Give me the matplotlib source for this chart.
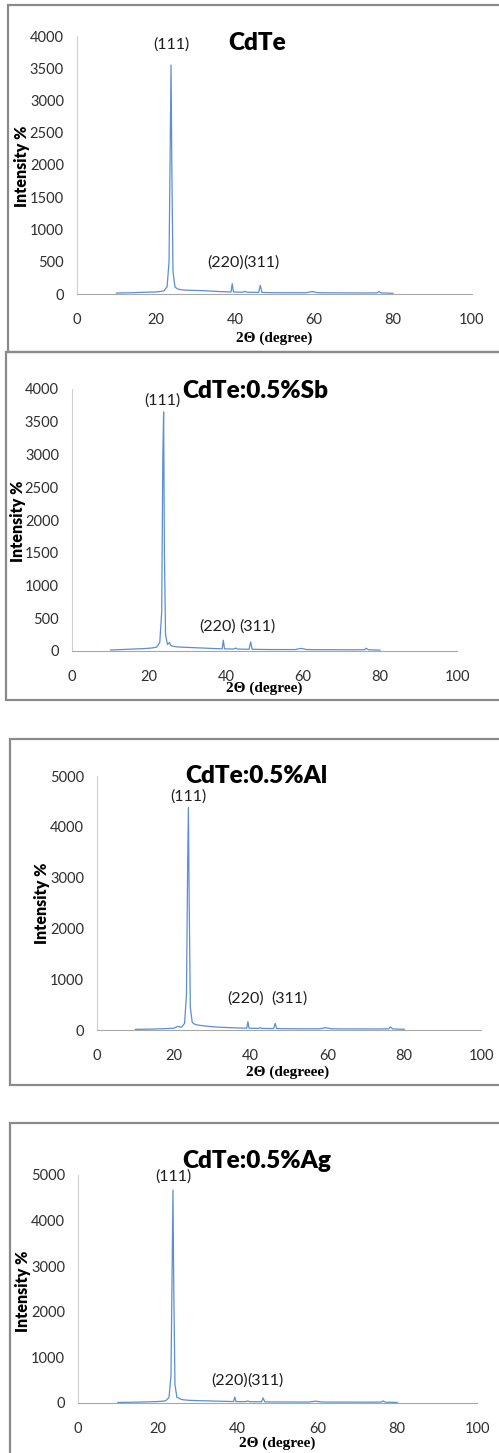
import matplotlib
matplotlib.use("Agg")
import matplotlib.pyplot as plt

# XRD patterns of CdTe films (2-theta in degrees, intensity in counts)
two_theta = [10, 12, 14, 16, 18, 20, 21, 22, 22.8, 23.3, 23.6, 23.8, 24.0, 24.3, 24.8,
             25.3, 25.6, 26, 27, 28, 30, 32, 34, 36, 38, 39.0, 39.3, 39.6, 40, 42,
             42.5, 43, 44, 46.0, 46.4, 46.8, 48, 50, 52, 55, 58, 59.5, 61, 64, 67,
             70, 73, 76, 76.4, 77, 78, 80]

cdte = [15, 18, 20, 25, 28, 32, 38, 50, 110, 500, 2300, 3550, 2000, 350, 110,
        85, 75, 70, 62, 58, 55, 52, 45, 38, 33, 32, 160, 32, 30, 28,
        42, 28, 26, 25, 135, 25, 22, 20, 20, 19, 20, 38, 20, 18, 18,
        17, 16, 18, 38, 17, 15, 12]

cdte_sb = [15, 20, 25, 30, 35, 42, 48, 60, 130, 600, 3000, 3650, 1500, 250, 100,
           130, 90, 75, 65, 60, 55, 50, 45, 40, 35, 33, 165, 33, 32, 30,
           45, 30, 28, 27, 140, 27, 25, 23, 22, 22, 22, 40, 22, 20, 20,
           19, 18, 20, 42, 19, 17, 14]

cdte_al = [12, 15, 18, 22, 28, 35, 70, 55, 130, 700, 3200, 4380, 2600, 450, 150,
           120, 110, 100, 90, 80, 65, 55, 48, 42, 38, 36, 165, 36, 34, 32,
           45, 32, 30, 28, 130, 28, 26, 25, 24, 23, 24, 45, 24, 22, 22,
           21, 20, 24, 60, 22, 18, 14]

cdte_ag = [12, 15, 18, 22, 26, 32, 38, 50, 120, 600, 3000, 4670, 2500, 400, 120,
           110, 90, 75, 65, 58, 52, 48, 42, 38, 34, 32, 130, 32, 30, 30,
           45, 30, 28, 26, 110, 26, 24, 22, 22, 21, 22, 40, 22, 20, 20,
           19, 18, 20, 45, 19, 16, 12]

titles = ["CdTe", "CdTe:0.5%Sb", "CdTe:0.5%Al", "CdTe:0.5%Ag"]
xlabels = ["2\u0398 (degree)", "2\u0398 (degree)", "2\u0398 (degreee)", "2\u0398 (degree)"]
series = [cdte, cdte_sb, cdte_al, cdte_ag]
ymax = [4000, 4000, 5000, 5000]
ystep = [500, 500, 1000, 1000]
# (hkl) label positions in data units: (111), (220), (311)
hkl_pos = [
    [(23.8, 3860), (37.5, 480), (46.6, 480)],
    [(23.6, 3817), (37.7, 366), (48.1, 366)],
    [(23.7, 4587), (38.8, 610), (50.0, 610)],
    [(23.8, 4956), (38.1, 482), (46.9, 482)],
]
hkl = ["(111)", "(220)", "(311)"]

W, H = 499, 1453
fig = plt.figure(figsize=(W / 100, H / 100), dpi=100)

# frame lines around each panel, in pixels
bg = fig.add_axes([0, 0, 1, 1], zorder=0)
bg.set_xlim(0, W)
bg.set_ylim(H, 0)
bg.axis("off")
frames = [(8, 5, 352), (6, 352, 700), (10, 739, 1085), (10, 1123, 1460)]
for left, top, bottom in frames:
    bg.plot([W + 5, left, left, W + 5], [top, top, bottom, bottom],
            color="#8a8a8a", lw=1.6, solid_joinstyle="miter")

# layout of each panel (pixels): axes box, title, y-label, x-label
axes_px = [(77, 472, 36, 294), (72, 457, 389, 651), (97, 481, 776, 1030), (78, 477, 1175, 1403)]
title_px = [(257, 43), (255, 391), (256, 776), (257, 1161)]
ylab_px = [(22, 166), (18, 521), (42, 903), (23, 1291)]
xlab_px = [(274, 338), (264, 688), (288, 1072), (277, 1443)]

tick_font = "Lato"
for i in range(4):
    x0, x1, yt, yb = axes_px[i]
    ax = fig.add_axes([x0 / W, 1 - yb / H, (x1 - x0) / W, (yb - yt) / H], zorder=2)
    ax.patch.set_alpha(0)
    ax.plot(two_theta, series[i], color="#5b8fd2", lw=0.9)
    ax.set_xlim(0, 100)
    ax.set_ylim(0, ymax[i])
    ax.set_xticks(range(0, 101, 20))
    ax.set_yticks(range(0, ymax[i] + 1, ystep[i]))
    for s in ["top", "right"]:
        ax.spines[s].set_visible(False)
    ax.spines["left"].set_color("#d0d0d0")
    ax.spines["bottom"].set_color("#a8a8a8")
    ax.spines["left"].set_linewidth(0.8)
    ax.spines["bottom"].set_linewidth(0.8)
    ax.tick_params(axis="y", length=0, pad=9.4, labelsize=10.5, labelcolor="#2e2e2e")
    ax.tick_params(axis="x", length=0, pad=13.5, labelsize=10.5, labelcolor="#2e2e2e")
    for lab in ax.get_xticklabels() + ax.get_yticklabels():
        lab.set_fontfamily(tick_font)

    for txt, (hx, hy) in zip(hkl, hkl_pos[i]):
        ax.text(hx, hy, txt, ha="center", va="center", fontsize=11.5,
                family=tick_font, color="#1e1e1e")

    tx, ty = title_px[i]
    fig.text(tx / W, 1 - ty / H, titles[i], ha="center", va="center",
             fontsize=17.5, fontweight="heavy", family=tick_font, zorder=3)
    lx, ly = ylab_px[i]
    fig.text(lx / W, 1 - ly / H, "Intensity %", ha="center", va="center",
             rotation=90, fontsize=11.5, fontweight="heavy", family=tick_font, zorder=3)
    bx, by = xlab_px[i]
    fig.text(bx / W, 1 - by / H, xlabels[i], ha="center", va="center",
             fontsize=11, fontweight="bold", family="Liberation Serif", zorder=3)

fig.savefig("out.png", dpi=100)
